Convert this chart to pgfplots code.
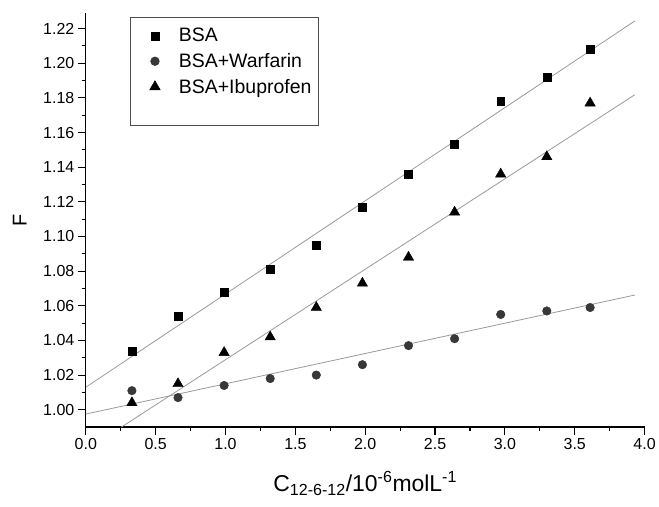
\documentclass[border=0pt]{standalone}
\usepackage{fontspec}
\setmainfont{Liberation Sans}
\usepackage{pgfplots}
\pgfplotsset{compat=1.18}
\pgfplotsset{
  dots/.style={only marks,
    legend image code/.code={%
      \path[draw=none, fill=none] (0pt,-4pt) rectangle (42pt,4pt);
      \draw[mark repeat=2, mark phase=2] plot coordinates {(0pt,0pt) (20pt,0pt) (42pt,0pt)};}},
}

\begin{document}
\begin{tikzpicture}
\begin{axis}[
    scale only axis,
    width=560pt, height=415pt,
    xmin=0, xmax=4,
    ymin=0.99, ymax=1.229,
    axis x line*=bottom,
    axis y line*=left,
    axis line style={line width=1.2pt, black},
    xtick={0,0.5,...,4},
    ytick={1.00,1.02,...,1.221},
    minor x tick num=1,
    minor y tick num=1,
    tick align=outside,
    major tick length=8pt,
    minor tick length=4pt,
    every tick/.style={black, line width=1.1pt},
    /pgf/number format/assume math mode=true,
    xticklabel style={font=\fontsize{16}{18}\selectfont, /pgf/number format/.cd, fixed, fixed zerofill, precision=1},
    yticklabel style={font=\fontsize{16}{18}\selectfont, /pgf/number format/.cd, fixed, fixed zerofill, precision=2},
    xlabel={C\textsubscript{12-6-12}/10\textsuperscript{-6}molL\textsuperscript{-1}},
    xlabel style={font=\fontsize{23}{26}\selectfont, at={(axis description cs:0.5,-0.137)}, anchor=center},
    ylabel={F},
    ylabel style={font=\fontsize{20}{22}\selectfont, at={(axis description cs:-0.118,0.5)}, anchor=center},
    clip=true,
    legend style={at={(0.0786,0.99)}, anchor=north west, draw=black!70, line width=0.6pt,
        font=\fontsize{19.5}{22}\selectfont, cells={anchor=west}, row sep=6pt,
        inner xsep=5pt, inner ysep=9pt},
]
% data
\addplot[dots, mark=square*, mark size=4pt, black] coordinates {
(0.33,1.034) (0.66,1.054) (0.99,1.068) (1.32,1.081) (1.65,1.095) (1.98,1.117)
(2.31,1.136) (2.64,1.153) (2.97,1.178) (3.30,1.192) (3.61,1.208)};
\addlegendentry{BSA}
\addplot[dots, mark=*, mark size=4.3pt, draw=black!80, fill=black!78] coordinates {
(0.33,1.011) (0.66,1.007) (0.99,1.014) (1.32,1.018) (1.65,1.020) (1.98,1.026)
(2.31,1.037) (2.64,1.041) (2.97,1.055) (3.30,1.057) (3.61,1.059)};
\addlegendentry{BSA+Warfarin}
\addplot[dots, mark=triangle*, mark size=6pt, black] coordinates {
(0.33,1.004) (0.66,1.015) (0.99,1.033) (1.32,1.042) (1.65,1.059) (1.98,1.073)
(2.31,1.088) (2.64,1.114) (2.97,1.136) (3.30,1.146) (3.61,1.177)};
\addlegendentry{BSA+Ibuprofen}
\addlegendimage{empty legend}
\addlegendentry{\rule{0pt}{8pt}}
% fitted lines
\addplot[gray!80, line width=0.8pt, forget plot] coordinates {(0,1.013) (3.93,1.2244)};
\addplot[gray!80, line width=0.8pt, forget plot] coordinates {(0,0.9975) (3.93,1.0662)};
\addplot[gray!80, line width=0.8pt, forget plot] coordinates {(0.255,0.990) (3.93,1.1818)};
\end{axis}
\path (current axis.south west) ++(-86pt,-80pt);
\path (current axis.north east) ++(13pt,13pt);
\end{tikzpicture}
\end{document}
